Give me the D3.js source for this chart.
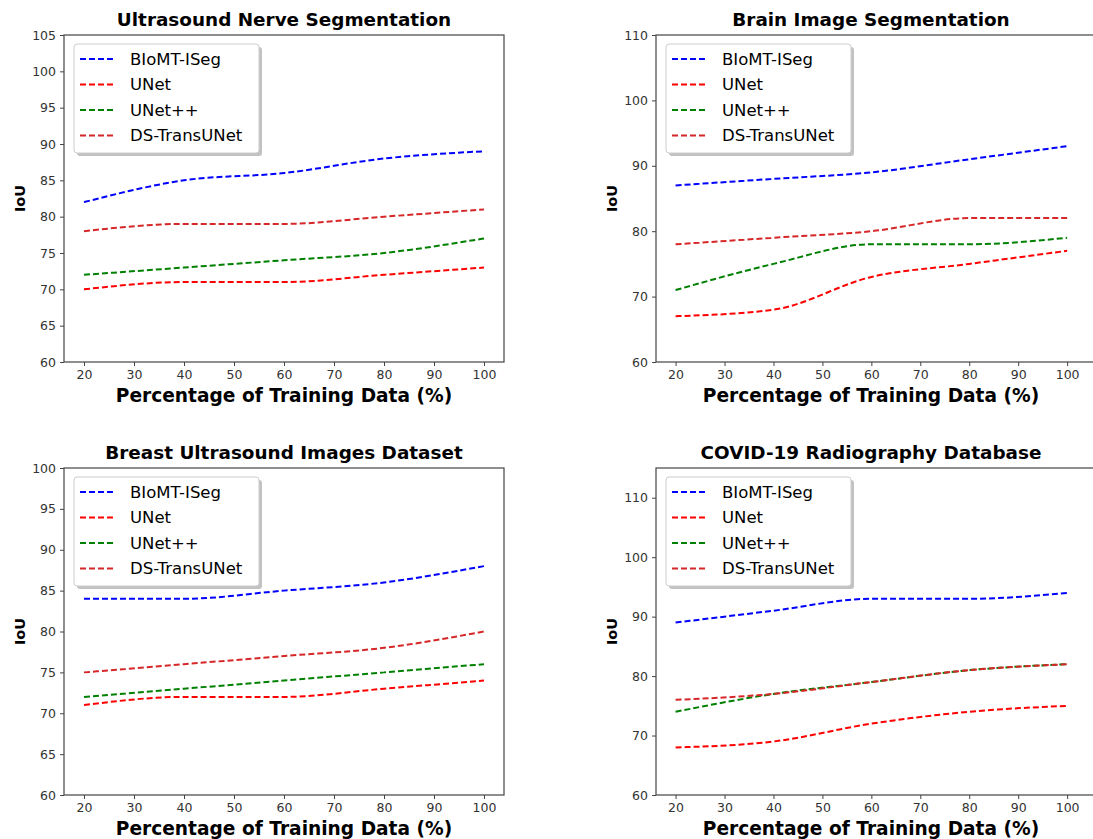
<!DOCTYPE html>
<html>
<head>
<meta charset="utf-8">
<script src="https://cdn.jsdelivr.net/npm/d3@7"></script>
<style>
  body { margin: 0; background: #fff; }
  svg { display: block; font-family: "DejaVu Sans", sans-serif; }
</style>
</head>
<body>
<div id="chart"></div>
<script>
// shared x values and series names
var trainPct = [20, 40, 60, 80, 100];
var seriesNames = ["BIoMT-ISeg", "UNet", "UNet++", "DS-TransUNet"];
var seriesColors = ["#0000ff", "#ff0000", "#008000", "#d62728"];

// panel titles
var titles = ["Ultrasound Nerve Segmentation", "Brain Image Segmentation",
  "Breast Ultrasound Images Dataset", "COVID-19 Radiography Database"];

// IoU values per panel, one array per series
var nerveIoU = [[82, 85, 86, 88, 89], [70, 71, 71, 72, 73], [72, 73, 74, 75, 77], [78, 79, 79, 80, 81]];
var brainIoU = [[87, 88, 89, 91, 93], [67, 68, 73, 75, 77], [71, 75, 78, 78, 79], [78, 79, 80, 82, 82]];
var breastIoU = [[84, 84, 85, 86, 88], [71, 72, 72, 73, 74], [72, 73, 74, 75, 76], [75, 76, 77, 78, 80]];
var covidIoU = [[89, 91, 93, 93, 94], [68, 69, 72, 74, 75], [74, 77, 79, 81, 82], [76, 77, 79, 81, 82]];

// y ranges and tick values
var yLimits = [[60, 105], [60, 110], [60, 100], [60, 115]];
var yTickVals = [d3.range(60, 106, 5), d3.range(60, 111, 10), d3.range(60, 101, 5), d3.range(60, 111, 10)];
var xTickVals = d3.range(20, 101, 10);

var width = 1093, height = 839;

var svg = d3.select("#chart").append("svg")
  .attr("width", width)
  .attr("height", height);

// plot boxes (left, right, top, bottom) and x domain for each panel
var panels = [
  { box: [64, 504, 35, 362], xdom: [16, 104], data: nerveIoU },
  { box: [656, 1096, 35, 362], xdom: [16, 105.9], data: brainIoU },
  { box: [64, 504, 468, 795], xdom: [16, 104], data: breastIoU },
  { box: [656, 1096, 468, 795], xdom: [16, 105.9], data: covidIoU }
];

panels.forEach(function(p, i) {
  var L = p.box[0], R = p.box[1], T = p.box[2], B = p.box[3];
  var cx = (L + Math.min(R, 1086)) / 2;

  var x = d3.scaleLinear().domain(p.xdom).range([L, R]);
  var y = d3.scaleLinear().domain(yLimits[i]).range([B, T]);

  var g = svg.append("g");

  // frame
  g.append("rect")
    .attr("x", L).attr("y", T)
    .attr("width", R - L).attr("height", B - T)
    .attr("fill", "none")
    .attr("stroke", "#444")
    .attr("stroke-width", 1.2);

  // axes
  var xAxis = g.append("g")
    .attr("transform", "translate(0," + B + ")")
    .call(d3.axisBottom(x).tickValues(xTickVals).tickSizeOuter(0).tickSize(4).tickPadding(4));
  var yAxis = g.append("g")
    .attr("transform", "translate(" + L + ",0)")
    .call(d3.axisLeft(y).tickValues(yTickVals[i]).tickSizeOuter(0).tickSize(4).tickPadding(4));

  [xAxis, yAxis].forEach(function(a) {
    a.select(".domain").remove();
    a.selectAll("line").attr("stroke", "#444");
    a.selectAll("text")
      .attr("fill", "#333")
      .style("font-size", "12.5px")
      .style("font-family", "DejaVu Sans, sans-serif");
  });

  // title
  g.append("text")
    .attr("x", cx)
    .attr("y", T - 9)
    .attr("text-anchor", "middle")
    .style("font-weight", "bold")
    .style("font-size", "18.4px")
    .text(titles[i]);

  // axis labels
  g.append("text")
    .attr("x", cx)
    .attr("y", B + 40)
    .attr("text-anchor", "middle")
    .style("font-weight", "bold")
    .style("font-size", "18.6px")
    .text("Percentage of Training Data (%)");

  g.append("text")
    .attr("transform", "translate(" + (L - 39) + "," + ((T + B) / 2) + ") rotate(-90)")
    .attr("text-anchor", "middle")
    .style("font-weight", "bold")
    .style("font-size", "14.5px")
    .text("IoU");

  // lines
  var line = d3.line()
    .x(function(d, j) { return x(trainPct[j]); })
    .y(function(d) { return y(d); })
    .curve(d3.curveMonotoneX);

  var clipId = "clip" + i;
  g.append("clipPath").attr("id", clipId)
    .append("rect").attr("x", L).attr("y", T).attr("width", R - L).attr("height", B - T);

  g.append("g").attr("clip-path", "url(#" + clipId + ")")
    .selectAll("path.series")
    .data(p.data)
    .enter()
    .append("path")
      .attr("class", "series")
      .attr("d", line)
      .attr("fill", "none")
      .attr("stroke", function(d, j) { return seriesColors[j]; })
      .attr("stroke-width", 2)
      .attr("stroke-dasharray", "6,3");

  // legend
  var lg = g.append("g").attr("transform", "translate(" + (L + 10) + "," + (T + 9) + ")");
  var lw = 185, lh = 109;
  lg.append("rect")
    .attr("x", 3).attr("y", 3)
    .attr("width", lw).attr("height", lh)
    .attr("rx", 3)
    .attr("fill", "#999")
    .attr("opacity", 0.6);
  lg.append("rect")
    .attr("width", lw).attr("height", lh)
    .attr("rx", 3)
    .attr("fill", "#fff")
    .attr("stroke", "#ccc");

  var rows = lg.selectAll("g.row")
    .data(seriesNames)
    .enter()
    .append("g")
      .attr("class", "row")
      .attr("transform", function(d, j) { return "translate(0," + (15 + j * 25.5) + ")"; });

  rows.append("line")
    .attr("x1", 6).attr("x2", 42)
    .attr("stroke", function(d, j) { return seriesColors[j]; })
    .attr("stroke-width", 2)
    .attr("stroke-dasharray", "6,3");

  rows.append("text")
    .attr("x", 56)
    .attr("dy", "0.35em")
    .style("font-size", "16.5px")
    .text(function(d) { return d; });
});
</script>
</body>
</html>
